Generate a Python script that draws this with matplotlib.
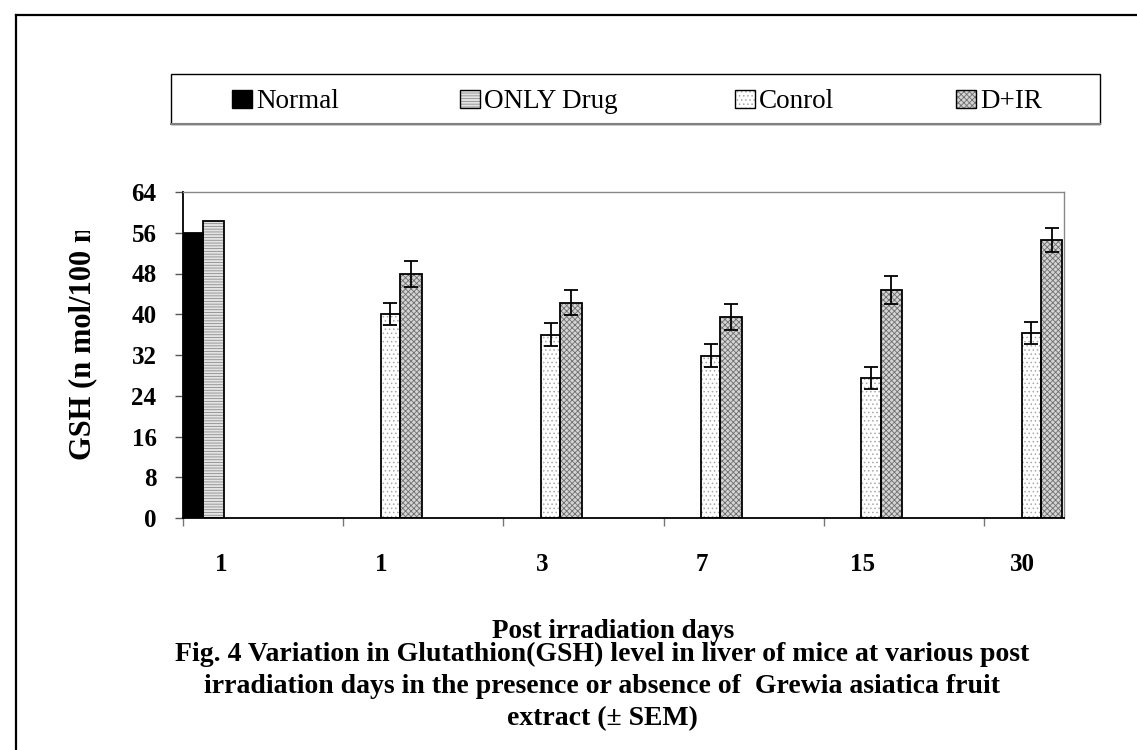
import matplotlib
matplotlib.use("Agg")
import matplotlib.pyplot as plt
from matplotlib.patches import Rectangle
from matplotlib.lines import Line2D
from matplotlib.transforms import Bbox, TransformedBbox
import numpy as np

# data
days = ["1", "1", "3", "7", "15", "30"]
normal = [56.0]
only_drug = [58.3]
control = [40.0, 36.0, 31.9, 27.5, 36.3]
control_sem = [2.2, 2.2, 2.3, 2.2, 2.2]
d_ir = [47.9, 42.3, 39.5, 44.8, 54.6]
d_ir_sem = [2.5, 2.5, 2.5, 2.8, 2.4]
series_names = ["Normal", "ONLY Drug", "Conrol", "D+IR"]
yticks = list(range(0, 65, 8))

W, H = 1137, 750


def fx(x):
    return x / W


def fy(y):
    return 1 - y / H


plt.rcParams['font.family'] = ['Liberation Serif', 'DejaVu Serif']
plt.rcParams['hatch.linewidth'] = 0.6

# face, hatch, hatch colour for each series
styles = {
    "Normal": ("black", None, "black"),
    "ONLY Drug": ("#e4e4e4", "------", "#8c8c8c"),
    "Conrol": ("white", "....", "#a8a8a8"),
    "D+IR": ("#d4d4d4", "xxxxxx", "#6e6e6e"),
}

fig = plt.figure(figsize=(W / 100, H / 100), dpi=100)
ax = fig.add_axes([fx(183), fy(518), fx(1064) - fx(183), fy(192) - fy(518)])


def hatched_bar(x, heights, width, name):
    face, hatch, hcol = styles[name]
    ax.bar(x, heights, width, align='edge', color=face, hatch=hatch,
           edgecolor=hcol, linewidth=0, zorder=2)
    ax.bar(x, heights, width, align='edge', fill=False,
           edgecolor='black', linewidth=1.3, zorder=3)


groups = np.arange(1, len(days))
hatched_bar([0.0], normal, 0.123, "Normal")
hatched_bar([0.123], only_drug, 0.133, "ONLY Drug")
hatched_bar(groups + 0.235, control, 0.12, "Conrol")
hatched_bar(groups + 0.355, d_ir, 0.135, "D+IR")

ax.errorbar(groups + 0.295, control, yerr=control_sem, fmt='none',
            ecolor='black', elinewidth=1.3, capsize=5, capthick=1.3, zorder=4)
ax.errorbar(groups + 0.4225, d_ir, yerr=d_ir_sem, fmt='none',
            ecolor='black', elinewidth=1.3, capsize=5, capthick=1.3, zorder=4)

ax.set_xlim(0, 5.5)
ax.set_ylim(0, 64)
ax.set_yticks(yticks)
ax.set_yticklabels([str(v) for v in yticks], fontsize=18, fontweight='bold')
ax.tick_params(axis='y', length=6, width=1, color='#555555', pad=13)

ax.set_xticks(np.arange(len(days)))
ax.set_xticklabels([])
ax.set_xticks(np.arange(len(days)) + 0.24, minor=True)
ax.set_xticklabels(days, minor=True, fontsize=18, fontweight='bold')
ax.tick_params(axis='x', which='major', length=6, width=1, color='#777777')
ax.tick_params(axis='x', which='minor', length=0, pad=25)

for side in ['top', 'right']:
    ax.spines[side].set_color('#888888')
    ax.spines[side].set_linewidth(1.0)
for side in ['left', 'bottom']:
    ax.spines[side].set_color('black')
    ax.spines[side].set_linewidth(1.3)

# y label, cut off at the top like the original
ylab = fig.text(fx(83), fy(460), "GSH (n mol/100 mg)", rotation=90,
                ha='center', va='bottom', fontsize=22, fontweight='bold')
ylab.set_clip_box(TransformedBbox(Bbox([[0, 0], [1, fy(231)]]), fig.transFigure))
ylab.set_clip_on(True)

fig.text(fx(613), fy(638), "Post irradiation days", ha='center',
         va='baseline', fontsize=19.5, fontweight='bold')
title_lines = [
    "Fig. 4 Variation in Glutathion(GSH) level in liver of mice at various post",
    "irradiation days in the presence or absence of  Grewia asiatica fruit",
    "extract (\u00b1 SEM)",
]
for i, line in enumerate(title_lines):
    fig.text(fx(602), fy(661 + 32 * i), line, ha='center', va='baseline',
             fontsize=20, fontweight='bold')

# legend box drawn by hand
fig.add_artist(Rectangle((fx(171), fy(124)), fx(1100) - fx(171), fy(74) - fy(124),
                         transform=fig.transFigure, fill=False,
                         edgecolor='black', linewidth=1.0))
fig.add_artist(Line2D([fx(171), fx(1100)], [fy(124), fy(124)],
                      transform=fig.transFigure, color='#808080', linewidth=1.5))
key_x = [232, 460, 735, 956]
for kx, name in zip(key_x, series_names):
    face, hatch, hcol = styles[name]
    fig.add_artist(Rectangle((fx(kx), fy(108)), fx(20), fy(90) - fy(108),
                             transform=fig.transFigure, facecolor=face,
                             hatch=hatch, edgecolor=hcol, linewidth=0))
    fig.add_artist(Rectangle((fx(kx), fy(108)), fx(20), fy(90) - fy(108),
                             transform=fig.transFigure, fill=False,
                             edgecolor='black', linewidth=1.0))
    fig.text(fx(kx + 24), fy(108), name, ha='left', va='baseline', fontsize=19.5)

# outer frame, cropped on the right and bottom
fig.add_artist(Line2D([fx(16), fx(W + 5)], [fy(15), fy(15)],
                      transform=fig.transFigure, color='black', linewidth=1.6))
fig.add_artist(Line2D([fx(16), fx(16)], [fy(15), fy(H + 5)],
                      transform=fig.transFigure, color='black', linewidth=1.6))

fig.savefig("out.png", dpi=100)
